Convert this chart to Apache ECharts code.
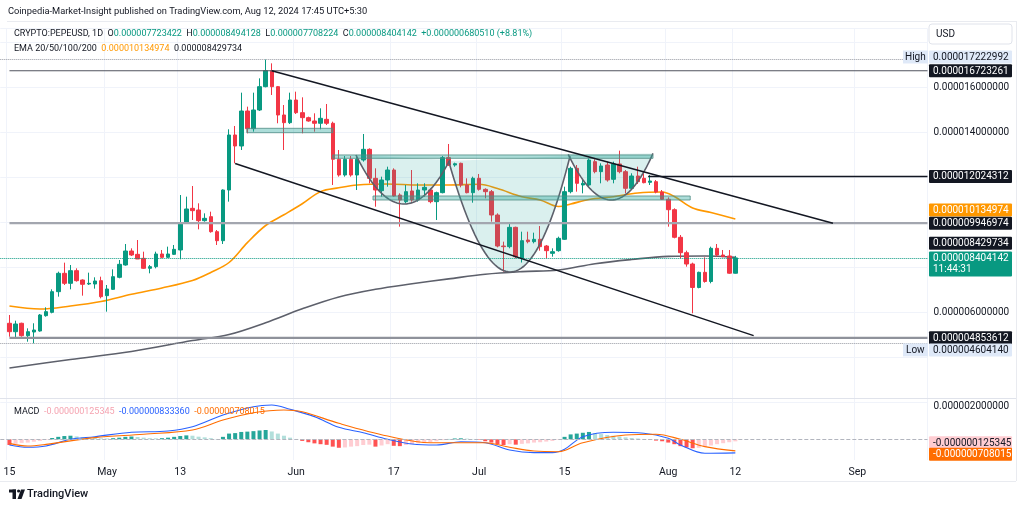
<!DOCTYPE html>
<html>
<head>
<meta charset="utf-8">
<title>PEPEUSD 1D</title>
<script src="https://cdn.jsdelivr.net/npm/echarts/dist/echarts.min.js"></script>
<style>
html,body{margin:0;padding:0;background:#ffffff;}
#chart{width:1024px;height:509px;}
</style>
</head>
<body>
<div id="chart"></div>
<script>
// ---------------- DATA (prices in micro-USD, i.e. x 1e-6) ----------------
const UNIT = 1e-6;
const firstCandleDate = '2024-04-15';
const axisStartDate = '2024-04-14';
const axisEndDate = '2024-09-12';

const openP = [5.498,5.125,5.498,4.947,5.111,5.156,5.837,5.985,6.903,7.719,
7.275,7.837,7.422,7.245,7.245,7.393,6.726,7.007,7.541,8.089,
8.711,8.563,8.385,7.941,8.015,8.578,8.430,8.563,8.756,9.941,
10.607,10.533,10.059,10.237,9.570,9.170,11.422,13.867,13.378,14.933,
14.148,14.978,16.015,16.725,16.015,14.756,14.415,15.422,14.859,14.637,
14.489,14.387,14.563,14.387,12.787,12.089,12.787,12.089,12.756,13.230,
11.941,11.393,11.867,12.311,11.200,10.904,11.378,10.978,11.422,11.422,
10.904,11.304,12.860,12.533,12.608,11.645,11.304,11.941,11.452,11.348,
10.311,8.933,8.904,9.763,8.385,9.200,9.126,9.230,8.933,8.607,
8.726,9.230,11.348,12.386,11.645,11.645,12.682,12.237,12.533,11.897,
12.578,12.237,11.497,12.045,11.941,11.763,11.793,11.333,11.009,10.547,
9.320,8.636,8.133,7.089,7.763,7.356,8.830,8.533,8.490,7.723422];

const highP = [5.867,5.614,5.525,5.274,5.498,5.911,6.208,7.007,7.793,8.193,
8.089,7.941,7.452,7.748,7.541,7.570,7.200,7.896,8.311,9.022,
8.830,9.200,8.681,8.089,8.681,8.756,8.904,8.978,11.200,11.126,
11.600,10.830,10.385,10.459,9.644,11.452,14.120,14.267,15.748,15.126,
15.748,16.385,17.222992,17.052,16.045,15.200,15.748,15.793,15.541,14.682,
14.830,15.053,15.245,14.459,13.200,12.934,12.934,12.934,13.911,13.274,
12.386,12.015,12.459,12.386,11.274,11.645,12.311,11.719,11.719,11.497,
11.348,12.934,13.467,12.637,12.637,11.941,12.015,12.134,11.497,11.422,
10.385,9.126,9.941,9.793,9.570,9.570,9.526,9.822,8.978,8.830,
9.348,11.569,12.459,12.533,11.897,12.830,12.787,12.608,12.682,12.682,
13.171,12.311,12.164,12.459,12.164,12.089,11.867,11.422,11.097,10.608,
9.422,8.726,8.193,7.793,8.430,8.904,9.022,8.756,8.756,8.494128];

const lowP = [4.902,4.831,4.902,4.680,4.60414,5.125,5.792,5.941,6.681,7.200,
7.007,7.349,6.726,7.200,7.037,6.607,6.015,6.978,7.497,8.059,
8.489,8.356,7.911,7.719,7.941,8.385,8.400,8.533,8.341,9.911,
10.089,9.674,10.015,9.526,8.978,9.022,10.904,12.608,13.200,13.941,
14.015,14.933,15.985,15.645,14.387,13.200,14.356,14.800,13.941,14.459,
14.015,14.120,14.311,11.645,12.015,12.015,12.015,11.422,12.682,11.719,
10.681,11.126,11.569,11.126,9.793,10.830,10.904,10.904,11.126,10.830,
10.089,11.274,12.489,12.459,11.541,11.274,10.859,11.393,11.052,10.015,
8.874,7.793,8.830,8.385,8.200,9.052,9.052,8.726,8.385,8.459,
8.681,9.200,11.274,11.348,11.274,11.569,12.164,11.719,11.793,11.719,
12.164,11.274,11.452,11.689,11.719,11.645,11.274,10.978,9.793,9.274,
8.385,8.015,5.942,7.052,7.304,7.275,8.459,8.430,7.700,7.708224];

const closeP = [5.125,5.467,4.947,5.125,5.200,5.867,6.015,6.903,7.719,7.275,
7.837,7.393,7.230,7.275,7.378,6.681,7.022,7.570,8.119,8.711,
8.533,8.356,7.941,8.015,8.578,8.430,8.578,8.785,9.941,10.578,
10.504,10.059,10.163,9.570,9.170,11.422,13.867,13.378,14.933,14.148,
14.978,16.015,16.725,16.015,14.756,14.415,15.422,14.859,14.637,14.489,
14.387,14.608,14.387,12.787,12.089,12.787,12.089,12.787,13.230,11.941,
11.422,11.867,12.311,11.156,10.978,11.348,10.978,11.422,11.541,10.904,
11.304,12.860,12.533,12.590,11.645,11.304,11.941,11.452,11.348,10.311,
8.933,8.904,9.763,8.459,9.170,9.126,9.230,8.904,8.726,8.681,
9.274,11.348,12.386,11.719,11.719,12.756,12.237,12.489,11.867,12.578,
12.237,11.497,12.045,11.793,11.748,11.822,11.333,11.009,10.547,9.320,
8.636,8.133,7.089,7.763,7.356,8.830,8.533,8.467,7.723632,8.404142];

// EMA readings (day offset from first candle, value)
const ema50Days = [0,5,10,15,20,25,30,33,36,39,42,45,48,51,54,57,62,67,72,77,80,84,87,90,92,95,99,103,107,109,112,115,119];
const ema50Vals = [6.267,6.134,6.267,6.467,6.79,7.067,7.40,7.756,8.2,9.084,9.844,10.32,10.81,11.35,11.52,11.644,11.689,11.644,11.644,11.676,11.489,11.124,10.978,10.689,10.8,11.0,11.124,11.289,11.333,11.133,10.622,10.422,10.134974];
const ema200Days = [0,10,20,30,36,42,48,54,60,66,72,78,84,90,96,102,108,114,119];
const ema200Vals = [3.511,3.889,4.244,4.733,5.0,5.524,6.142,6.67,7.009,7.253,7.471,7.68,7.796,7.867,8.147,8.333,8.471,8.489,8.429734];

// MACD pane
const macdDays = [0,3,6,10,14,20,26,30,35,40,43,46,50,54,58,62,66,70,74,78,82,86,89,91,94,99,104,108,110,114,119];
const macdVals = [-0.35,-0.49,-0.41,0,0.16,0.43,0.51,0.77,1.49,2.0,2.1,1.84,1.39,0.74,0.4,0,-0.29,-0.35,-0.15,-0.21,-0.66,-0.82,-0.82,-0.61,0.16,0.43,0.37,0.06,-0.35,-0.86,-0.83336];
const signalDays = [0,3,6,14,22,30,35,40,45,48,54,62,69,74,78,82,86,90,94,101,106,110,114,119];
const signalVals = [-0.25,-0.41,-0.31,0.1,0.31,0.57,1.18,1.63,1.8,1.69,0.98,0.2,-0.21,-0.21,-0.21,-0.49,-0.72,-0.76,-0.21,0.26,0.31,0,-0.45,-0.708015];
const macdHist = [-0.35,-0.28,-0.22,-0.2,-0.15,-0.1,-0.03,0.08,0.15,0.2,
0.22,0.18,0.14,0.12,0.1,0.06,0.05,0.07,0.1,0.15,
0.17,0.14,0.1,0.07,0.06,0.07,0.1,0.15,0.2,0.24,
0.22,0.16,0.12,0.07,0.02,0.15,0.35,0.38,0.45,0.47,
0.5,0.54,0.57,0.48,0.35,0.22,0.1,0.02,-0.1,-0.18,
-0.25,-0.3,-0.34,-0.45,-0.52,-0.5,-0.45,-0.42,-0.35,-0.33,
-0.45,-0.38,-0.3,-0.4,-0.42,-0.35,-0.3,-0.25,-0.2,-0.18,
-0.12,-0.05,0.02,0.05,0.06,0.04,0.02,-0.03,-0.12,-0.2,
-0.3,-0.35,-0.3,-0.33,-0.28,-0.25,-0.2,-0.18,-0.14,-0.1,
-0.03,0.15,0.3,0.35,0.4,0.45,0.38,0.32,0.26,0.22,
0.17,0.12,0.08,0.05,0.02,-0.03,-0.08,-0.12,-0.2,-0.3,
-0.42,-0.5,-0.55,-0.52,-0.45,-0.38,-0.3,-0.24,-0.18,-0.125345];

// Time-axis tick labels
const tickDates = ['2024-04-15','2024-05-01','2024-05-13','2024-06-01','2024-06-17','2024-07-01','2024-07-15','2024-08-01','2024-08-12','2024-09-01'];
const tickLabels = ['15','May','13','Jun','17','Jul','15','Aug','12','Sep'];
const priceTickValues = [6, 14, 16];
const macdTickValues = [2];

// Drawings (day offset, value)
const levelLines = [[0, 16.723261], [104.7, 12.024312], [0, 9.946974], [0, 4.853612]];
const trendLines = [[43, 16.72, 135, 9.947], [37, 12.60, 122, 4.95]];
const zones = [[38.9, 14.164, 53.0, 13.969], [53.0, 12.98, 105.5, 12.83], [59.6, 11.156, 111.6, 10.978]];
const cups = [[56.8, 12.978, 64.5, 10.80, 72.2, 12.756], [72.0, 12.71, 82.2, 7.78, 91.9, 12.93], [91.6, 13.01, 98.7, 10.978, 105.5, 13.05]];
const highValue = 17.222992, lowValue = 4.604140;
const countdown = '11:44:31';

// ---------------- BUILD ----------------
const FONT = 'Roboto, "Noto Sans", sans-serif';
const DAY = 86400000;
const t0 = Date.parse(axisStartDate + 'T00:00:00Z');
const t1 = Date.parse(axisEndDate + 'T00:00:00Z');
const categories = [];
for (let t = t0; t <= t1; t += DAY) categories.push(new Date(t).toISOString().slice(0, 10));
const offset = categories.indexOf(firstCandleDate); // category index of first candle
const N = closeP.length;

const candleData = [];
for (let k = 0; k < offset; k++) candleData.push('-');
for (let i = 0; i < N; i++) candleData.push([openP[i], closeP[i], lowP[i], highP[i]]);

const histData = [];
for (let k = 0; k < offset; k++) histData.push('-');
for (let i = 0; i < N; i++) {
  const v = macdHist[i], p = i > 0 ? macdHist[i - 1] : v;
  let c;
  if (v >= 0) c = v >= p ? '#26a69a' : '#b2dfdb';
  else c = v <= p ? '#ff5252' : '#ffcdd2';
  histData.push({ value: v, itemStyle: { color: c } });
}
const pairs = (days, vals) => days.map((d, j) => [d + offset, vals[j]]);

const isTick = (idx, val) => tickDates.indexOf(val) >= 0;
const tickFmt = (val) => { const j = tickDates.indexOf(val); return j >= 0 ? tickLabels[j] : ''; };
const fmt12 = v => (v * UNIT).toFixed(12);

function px(api, d, v) {
  const k = d + offset, k0 = Math.floor(k), f = k - k0;
  const a = api.coord([k0, v]);
  if (!f) return a;
  const b = api.coord([k0 + 1, v]);
  return [a[0] + (b[0] - a[0]) * f, a[1]];
}

const chart = echarts.init(document.getElementById('chart'), null, { renderer: 'canvas' });

const option = {
  animation: false,
  backgroundColor: '#ffffff',
  textStyle: { fontFamily: FONT },
  grid: [
    { left: 0.3, right: 96.5, top: 28.5, bottom: 107, containLabel: false, outerBoundsMode: 'none' },
    { left: 0.3, right: 96.5, top: 400, bottom: 49, containLabel: false, outerBoundsMode: 'none' }
  ],
  xAxis: [
    { gridIndex: 0, type: 'category', data: categories, boundaryGap: true,
      axisLine: { show: false }, axisTick: { show: false }, axisLabel: { show: false },
      splitLine: { show: true, interval: isTick, lineStyle: { color: '#f0f3fa', width: 1 } } },
    { gridIndex: 1, type: 'category', data: categories, boundaryGap: true,
      axisLine: { show: false }, axisTick: { show: false },
      axisLabel: { show: true, interval: isTick, formatter: tickFmt, color: '#131722', fontSize: 10.5, fontFamily: FONT, margin: 7 },
      splitLine: { show: true, interval: isTick, lineStyle: { color: '#f0f3fa', width: 1 } } }
  ],
  yAxis: [
    { gridIndex: 0, type: 'value', position: 'right', min: 2, max: 18.6, interval: 2, scale: false,
      axisLine: { show: false }, axisTick: { show: false },
      splitLine: { show: true, lineStyle: { color: '#f0f3fa' } },
      axisLabel: { color: '#131722', fontSize: 10, fontFamily: FONT, margin: 6,
        formatter: v => priceTickValues.some(p => Math.abs(p - v) < 1e-9) ? fmt12(v) : '' } },
    { gridIndex: 1, type: 'value', position: 'right', min: -1.27, max: 2.41,
      axisLine: { show: false }, axisTick: { show: false }, splitLine: { show: false },
      axisLabel: { customValues: macdTickValues, color: '#131722', fontSize: 10, fontFamily: FONT, margin: 6,
        formatter: v => fmt12(v) } }
  ],
  series: [
    { type: 'custom', name: 'cups', xAxisIndex: 0, yAxisIndex: 0, z: 4, silent: true,
      data: cups.map(c => [Math.round(c[2]) + offset, c[3]]),
      renderItem: (params, api) => {
        const c = cups[params.dataIndex];
        const P0 = px(api, c[0], c[1]), B = px(api, c[2], c[3]), P2 = px(api, c[4], c[5]);
        const C = [2 * B[0] - (P0[0] + P2[0]) / 2, 2 * B[1] - (P0[1] + P2[1]) / 2];
        const pts = [];
        for (let s = 0; s <= 48; s++) {
          const t = s / 48, u = 1 - t;
          pts.push([u * u * P0[0] + 2 * u * t * C[0] + t * t * P2[0], u * u * P0[1] + 2 * u * t * C[1] + t * t * P2[1]]);
        }
        return { type: 'group', children: [
          { type: 'polygon', shape: { points: pts }, style: { fill: 'rgba(38,166,154,0.17)' } },
          { type: 'polyline', shape: { points: pts }, style: { stroke: '#5d606b', lineWidth: 1.6, fill: null } }
        ] };
      } },
    { type: 'custom', name: 'zones', xAxisIndex: 0, yAxisIndex: 0, z: 5, silent: true,
      data: zones.map(z => [Math.round(z[0]) + offset, z[1]]),
      renderItem: (params, api) => {
        const z = zones[params.dataIndex];
        const a = px(api, z[0], z[1]), b = px(api, z[2], z[3]);
        return { type: 'rect', shape: { x: a[0], y: a[1], width: b[0] - a[0], height: b[1] - a[1] },
          style: { fill: 'rgba(38,166,154,0.38)', stroke: 'rgba(80,140,132,0.8)', lineWidth: 1 } };
      } },
    { type: 'candlestick', name: 'PEPEUSD', xAxisIndex: 0, yAxisIndex: 0, z: 3,
      data: candleData, barWidth: 4,
      itemStyle: { color: '#089981', color0: '#f23645', borderColor: '#089981', borderColor0: '#f23645', borderWidth: 1 },
      markLine: { silent: true, symbol: ['none', 'none'], label: { show: false }, animation: false,
        data: [
          { yAxis: highValue, lineStyle: { color: '#9598a1', type: 'dotted', width: 1 } },
          { yAxis: lowValue, lineStyle: { color: '#9598a1', type: 'dotted', width: 1 } },
          { yAxis: closeP[N - 1], lineStyle: { color: '#089981', type: 'dotted', width: 1 } }
        ] } },
    { type: 'line', name: 'EMA50', xAxisIndex: 0, yAxisIndex: 0, z: 3, data: pairs(ema50Days, ema50Vals),
      smooth: 0.35, showSymbol: false, symbol: 'none', lineStyle: { color: '#ff9800', width: 1.6 } },
    { type: 'line', name: 'EMA200', xAxisIndex: 0, yAxisIndex: 0, z: 3, data: pairs(ema200Days, ema200Vals),
      smooth: 0.35, showSymbol: false, symbol: 'none', lineStyle: { color: '#5d606b', width: 1.6 } },
    { type: 'custom', name: 'lines', xAxisIndex: 0, yAxisIndex: 0, z: 6, silent: true,
      data: levelLines.map(l => [Math.round(l[0]) + offset, l[1]]).concat(trendLines.map(l => [l[0] + offset, l[1]])),
      renderItem: (params, api) => {
        const j = params.dataIndex;
        const styles = [
          { stroke: '#50535e', lineWidth: 1.2 }, { stroke: '#131722', lineWidth: 1.6 },
          { stroke: '#a3a6af', lineWidth: 2.2 }, { stroke: '#8f929b', lineWidth: 2.2 },
          { stroke: '#131722', lineWidth: 1.5 }, { stroke: '#131722', lineWidth: 1.5 }
        ];
        let a, b;
        if (j < levelLines.length) {
          const l = levelLines[j];
          a = px(api, l[0], l[1]);
          b = [params.coordSys.x + params.coordSys.width, a[1]];
        } else {
          const l = trendLines[j - levelLines.length];
          a = px(api, l[0], l[1]); b = px(api, l[2], l[3]);
        }
        return { type: 'line', shape: { x1: a[0], y1: a[1], x2: b[0], y2: b[1] }, style: styles[j] };
      } },
    { type: 'bar', name: 'Histogram', xAxisIndex: 1, yAxisIndex: 1, data: histData, barWidth: 4,
      markLine: { silent: true, symbol: ['none', 'none'], label: { show: false },
        data: [{ yAxis: 0, lineStyle: { color: '#b2b5be', type: 'dashed', width: 1 } }] } },
    { type: 'line', name: 'MACD', xAxisIndex: 1, yAxisIndex: 1, data: pairs(macdDays, macdVals),
      smooth: 0.35, symbol: 'none', lineStyle: { color: '#2962ff', width: 1.1 } },
    { type: 'line', name: 'Signal', xAxisIndex: 1, yAxisIndex: 1, data: pairs(signalDays, signalVals),
      smooth: 0.35, symbol: 'none', lineStyle: { color: '#ff6d00', width: 1.1 } }
  ]
};
chart.setOption(option);

// ---------------- LABELS / CHROME ----------------
const yMain = v => chart.convertToPixel({ yAxisIndex: 0 }, v);
const yMacd = v => chart.convertToPixel({ yAxisIndex: 1 }, v);
const TAG_X = 929, TAG_W = 83, TAG_H = 13;
const g = [];
function tag(y, text, bg, fg, extra) {
  const h = extra ? 25 : TAG_H;
  g.push({ type: 'rect', shape: { x: TAG_X, y: y - TAG_H / 2, width: TAG_W, height: h, r: 1 }, style: { fill: bg }, z: 100 });
  g.push({ type: 'text', x: TAG_X + 4, y: y + 0.5, style: { text, fill: fg, font: '10px ' + FONT, verticalAlign: 'middle' }, z: 101 });
  if (extra) g.push({ type: 'text', x: TAG_X + 4, y: y + 11.5, style: { text: extra, fill: fg, font: '10px ' + FONT, verticalAlign: 'middle' }, z: 101 });
}
const lastClose = closeP[N - 1], prevClose = closeP[N - 2];
const chg = lastClose - prevClose;
const ema50Last = ema50Vals[ema50Vals.length - 1], ema200Last = ema200Vals[ema200Vals.length - 1];
const HL = '#dfe9f8';

tag(yMain(highValue) - 2.5, fmt12(highValue), HL, '#131722');
g.push({ type: 'rect', shape: { x: 903, y: yMain(highValue) - 2.5 - 6.5, width: 25, height: 13 }, style: { fill: HL }, z: 100 });
g.push({ type: 'text', x: 905, y: yMain(highValue) - 2, style: { text: 'High', fill: '#131722', font: '10px ' + FONT, verticalAlign: 'middle' }, z: 101 });
tag(yMain(levelLines[0][1]), fmt12(levelLines[0][1]), '#131722', '#ffffff');
tag(yMain(levelLines[1][1]), fmt12(levelLines[1][1]), '#131722', '#ffffff');
tag(yMain(ema50Last) - 9, fmt12(ema50Last), '#ff9800', '#ffffff');
tag(yMain(levelLines[2][1]), fmt12(levelLines[2][1]), '#131722', '#ffffff');
tag(yMain(ema200Last) - 14, fmt12(ema200Last), '#131722', '#ffffff');
tag(yMain(lastClose), fmt12(lastClose), '#089981', '#ffffff', countdown);
tag(yMain(levelLines[3][1]), fmt12(levelLines[3][1]), '#131722', '#ffffff');
tag(yMain(lowValue) + 6.5, fmt12(lowValue), HL, '#131722');
g.push({ type: 'rect', shape: { x: 903, y: yMain(lowValue) + 6.5 - 6.5, width: 25, height: 13 }, style: { fill: HL }, z: 100 });
g.push({ type: 'text', x: 906, y: yMain(lowValue) + 7, style: { text: 'Low', fill: '#131722', font: '10px ' + FONT, verticalAlign: 'middle' }, z: 101 });

const histLast = macdHist[N - 1], macdLast = macdVals[macdVals.length - 1], sigLast = signalVals[signalVals.length - 1];
tag(yMacd(histLast) + 1.5, fmt12(histLast), '#ffcdd2', '#131722');
tag(yMacd(sigLast) + 3.5, fmt12(sigLast), '#ff6d00', '#ffffff');

// header texts
g.push({ type: 'text', x: 8, y: 12, style: { text: 'Coinpedia-Market-Insight published on TradingView.com, Aug 12, 2024 17:45 UTC+5:30', fill: '#131722', font: '9.3px ' + FONT, verticalAlign: 'middle' }, z: 101 });
const T = '#089981';
g.push({ type: 'text', x: 14, y: 33.5, z: 101, style: {
  text: 'CRYPTO:PEPEUSD, 1D  O{g|' + fmt12(openP[N - 1]) + '}  H{g|' + fmt12(highP[N - 1]) + '}  L{g|' + fmt12(lowP[N - 1]) + '}  C{g|' + fmt12(lastClose) + '}  {g|+' + fmt12(chg) + ' (+' + (chg / prevClose * 100).toFixed(2) + '%)}',
  fill: '#131722', font: '9px ' + FONT, verticalAlign: 'middle',
  rich: { g: { fill: T, font: '9px ' + FONT } } } });
g.push({ type: 'text', x: 14, y: 48.5, z: 101, style: {
  text: 'EMA 20/50/100/200  {o|' + fmt12(ema50Last) + '}  ' + fmt12(ema200Last),
  fill: '#131722', font: '9px ' + FONT, verticalAlign: 'middle',
  rich: { o: { fill: '#ff9800', font: '9px ' + FONT } } } });
g.push({ type: 'text', x: 14, y: 411.5, z: 101, style: {
  text: 'MACD  {p|' + fmt12(histLast) + '}  {b|' + fmt12(macdLast) + '}  {o|' + fmt12(sigLast) + '}',
  fill: '#131722', font: '9px ' + FONT, verticalAlign: 'middle',
  rich: { p: { fill: '#f5a3b0', font: '9px ' + FONT }, b: { fill: '#2962ff', font: '9px ' + FONT }, o: { fill: '#ff6d00', font: '9px ' + FONT } } } });

// USD box
g.push({ type: 'rect', shape: { x: 929, y: 24, width: 83, height: 20, r: 3 }, style: { fill: '#ffffff', stroke: '#e0e3eb', lineWidth: 1 }, z: 100 });
g.push({ type: 'text', x: 936, y: 34.5, style: { text: 'USD', fill: '#131722', font: '10px ' + FONT, verticalAlign: 'middle' }, z: 101 });

// pane separators / frame
g.push({ type: 'line', shape: { x1: 7, y1: 21.5, x2: 1016, y2: 21.5 }, style: { stroke: '#e9ebf0', lineWidth: 1 }, z: 1 });
g.push({ type: 'line', shape: { x1: 0, y1: 398.5, x2: 1016, y2: 398.5 }, style: { stroke: '#e0e3eb', lineWidth: 1 }, z: 1 });
g.push({ type: 'line', shape: { x1: 0, y1: 481.5, x2: 1016, y2: 481.5 }, style: { stroke: '#e9ebf0', lineWidth: 1 }, z: 1 });
g.push({ type: 'line', shape: { x1: 1016.5, y1: 21, x2: 1016.5, y2: 481 }, style: { stroke: '#e9ebf0', lineWidth: 1 }, z: 1 });

// TradingView logo
g.push({ type: 'rect', shape: { x: 9, y: 489.5, width: 7, height: 3 }, style: { fill: '#131722' }, z: 101 });
g.push({ type: 'rect', shape: { x: 12.5, y: 489.5, width: 3.5, height: 9.5 }, style: { fill: '#131722' }, z: 101 });
g.push({ type: 'circle', shape: { cx: 18.6, cy: 491, r: 1.6 }, style: { fill: '#131722' }, z: 101 });
g.push({ type: 'polygon', shape: { points: [[21, 489.5], [25, 489.5], [21.5, 499], [17.5, 499]] }, style: { fill: '#131722' }, z: 101 });
g.push({ type: 'text', x: 27, y: 494.5, style: { text: 'TradingView', fill: '#131722', font: '500 11px ' + FONT, verticalAlign: 'middle' }, z: 101 });

chart.setOption({ graphic: g });
</script>
</body>
</html>
